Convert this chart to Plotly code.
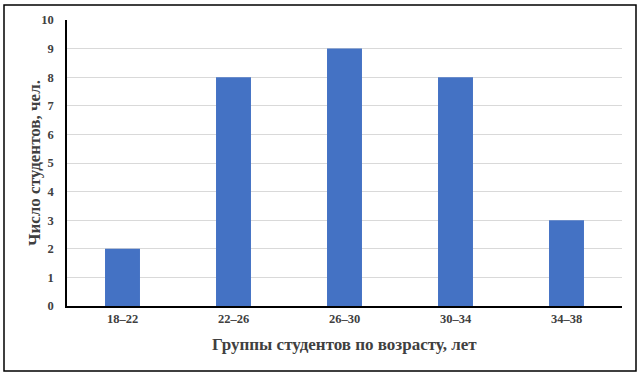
import plotly.graph_objects as go

categories = ["18–22", "22–26", "26–30", "30–34", "34–38"]
values = [2, 8, 9, 8, 3]
y_ticks = list(range(0, 11))

FONT = "Liberation Serif, DejaVu Serif, serif"
TXT = "#404040"

fig = go.Figure(go.Bar(x=categories, y=values, marker_color="#4472C4",
                       marker_line_width=0))

L, R, T, B = 67, 20, 20, 69
W, H = 642, 375
pw, ph = W - L - R, H - T - B

def px(x):
    return (x - L) / pw

def py(y):
    return (H - B - y) / ph

fig.update_layout(
    width=W, height=H,
    margin=dict(l=L, r=R, t=T, b=B),
    paper_bgcolor="white", plot_bgcolor="white",
    bargap=0.685,
    showlegend=False,
    font=dict(family=FONT, color=TXT, size=12),
    xaxis=dict(showline=True, linecolor="black", linewidth=1.5,
               tickfont=dict(family=FONT, size=12.5, color=TXT, weight="bold"),
               ticks="", showgrid=False),
    yaxis=dict(range=[0, 10], tickvals=y_ticks, showline=True,
               linecolor="black", linewidth=1.5, gridcolor="#d9d9d9",
               gridwidth=1, zeroline=False, ticks="",
               ticklabelstandoff=9,
               tickfont=dict(family=FONT, size=12.5, color=TXT, weight="bold")),
    annotations=[
        dict(text="<b>Группы студентов по возрасту, лет</b>", xref="paper", yref="paper",
             x=0.5, y=py(345), xanchor="center", yanchor="middle", showarrow=False,
             font=dict(family=FONT, size=17, color=TXT)),
        dict(text="<b>Число студентов, чел.</b>", xref="paper", yref="paper",
             x=px(34), y=0.5, xanchor="center", yanchor="middle", showarrow=False,
             textangle=-90, font=dict(family=FONT, size=17, color=TXT)),
    ],
    shapes=[dict(type="rect", xref="paper", yref="paper",
                 x0=px(4), x1=px(636), y0=py(371), y1=py(5),
                 line=dict(color="black", width=1.5), layer="below")],
)

fig.write_html("out.html")
